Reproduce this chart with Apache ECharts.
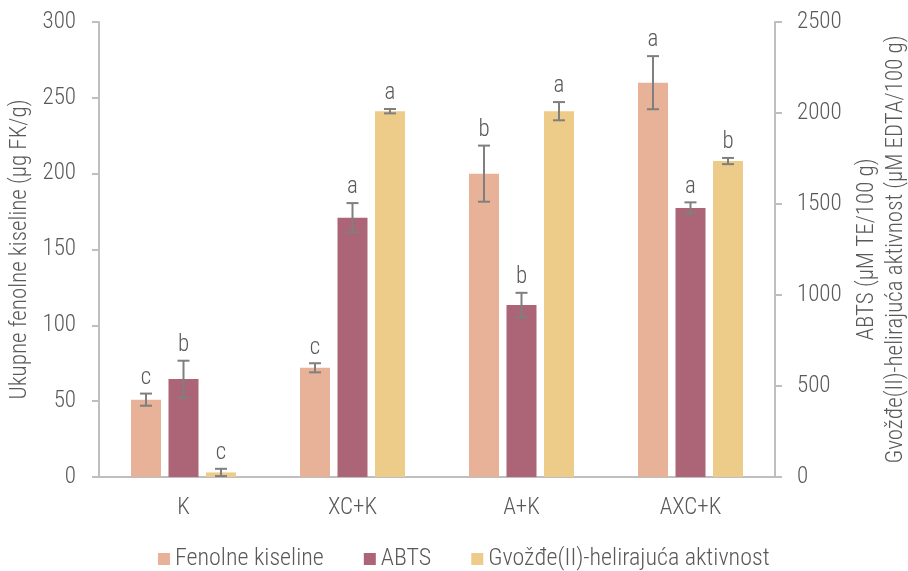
<!DOCTYPE html>
<html>
<head>
<meta charset="utf-8">
<script src="https://cdn.jsdelivr.net/npm/echarts@6/dist/echarts.min.js"></script>
<style>
  html, body { margin: 0; padding: 0; background: #fff; }
  #chart { width: 908px; height: 571px; }
</style>
</head>
<body>
<div id="chart"></div>
<script>
// Treatments on the x axis
const categories = ['K', 'XC+K', 'A+K', 'AXC+K'];

// Total phenolic acids (µg FK/g), left axis
const fenolne = [51, 72, 200, 260];
const fenolneErr = [4, 3, 18.5, 17.5];
const fenolneLetters = ['c', 'c', 'b', 'a'];

// ABTS (µM TE/100 g), right axis
const abts = [538, 1425, 945, 1478];
const abtsErr = [101, 80, 67, 31];
const abtsLetters = ['b', 'a', 'b', 'a'];

// Fe(II) chelating activity (µM EDTA/100 g), right axis
const gvozdje = [25, 2010, 2010, 1736];
const gvozdjeErr = [20, 12, 50, 17];
const gvozdjeLetters = ['c', 'a', 'a', 'b'];

const leftTicks = { min: 0, max: 300, interval: 50 };
const rightTicks = { min: 0, max: 2500, interval: 500 };

const FONT = '"Roboto Condensed", Roboto, sans-serif';
const FS = 23;
const TEXT = '#595959';
const AXIS = '#bfbfbf';
const ERR = '#7f7f7f';
const BAR_W = 30;
const BAR_STEP = 37.5;

const colors = ['#e8b298', '#ab6577', '#edcb88'];

function errorSeries(name, values, errs, letters, yAxisIndex, slot) {
  return {
    type: 'custom',
    name: name + ' err',
    yAxisIndex: yAxisIndex,
    z: 10,
    silent: true,
    clip: false,
    data: values.map((v, i) => [i, v, errs[i]]),
    renderItem: function (params, api) {
      const i = api.value(0);
      const v = api.value(1);
      const e = api.value(2);
      const letter = letters[params.dataIndex];
      const hi = api.coord([i, v + e]);
      const lo = api.coord([i, v - e]);
      const x = hi[0] + slot * BAR_STEP;
      const cap = 6;
      const style = { stroke: ERR, lineWidth: 2 };
      return {
        type: 'group',
        children: [
          { type: 'line', shape: { x1: x, y1: hi[1], x2: x, y2: lo[1] }, style: style },
          { type: 'line', shape: { x1: x - cap, y1: hi[1], x2: x + cap, y2: hi[1] }, style: style },
          { type: 'line', shape: { x1: x - cap, y1: lo[1], x2: x + cap, y2: lo[1] }, style: style },
          {
            type: 'text',
            x: x, y: hi[1] - 4,
            style: {
              text: letter, fill: TEXT, fontFamily: FONT, fontWeight: 300,
              fontSize: FS, align: 'center', verticalAlign: 'bottom'
            }
          }
        ]
      };
    }
  };
}

const chart = echarts.init(document.getElementById('chart'), null, { renderer: 'canvas' });

const axisText = { color: TEXT, fontFamily: FONT, fontWeight: 300, fontSize: FS };

chart.setOption({
  animation: false,
  textStyle: { fontFamily: FONT },
  grid: { left: 99, right: 133, top: 22, bottom: 94, containLabel: false, outerBoundsMode: 'none' },
  legend: {
    data: ['Fenolne kiseline', 'ABTS', 'Gvožđe(II)-helirajuća aktivnost'],
    top: 547,
    left: 158,
    padding: 0,
    itemWidth: 12,
    itemHeight: 12,
    itemGap: 40,
    icon: 'rect',
    textStyle: { color: TEXT, fontFamily: FONT, fontWeight: 300, fontSize: 24 }
  },
  xAxis: {
    type: 'category',
    data: categories,
    axisLine: { lineStyle: { color: AXIS, width: 2 } },
    axisTick: { show: false },
    axisLabel: Object.assign({ margin: 20 }, axisText)
  },
  yAxis: [
    {
      type: 'value',
      min: leftTicks.min, max: leftTicks.max, interval: leftTicks.interval,
      name: 'Ukupne fenolne kiseline (µg FK/g)',
      nameLocation: 'middle',
      nameRotate: 90,
      nameGap: 66,
      nameTextStyle: { color: TEXT, fontFamily: FONT, fontWeight: 300, fontSize: FS },
      axisLine: { show: true, lineStyle: { color: AXIS, width: 2 } },
      axisTick: { show: true, length: 7, lineStyle: { color: AXIS, width: 2 } },
      axisLabel: Object.assign({ margin: 23 }, axisText),
      splitLine: { show: false }
    },
    {
      type: 'value',
      position: 'right',
      min: rightTicks.min, max: rightTicks.max, interval: rightTicks.interval,
      name: 'ABTS (µM TE/100 g)\nGvožđe(II)-helirajuća aktivnost (µM EDTA/100 g)',
      nameLocation: 'middle',
      nameRotate: 90,
      nameGap: 72,
      nameTextStyle: { color: TEXT, fontFamily: FONT, fontWeight: 300, fontSize: FS, lineHeight: 29, align: 'center' },
      axisLine: { show: true, lineStyle: { color: AXIS, width: 2 } },
      axisTick: { show: true, length: 7, lineStyle: { color: AXIS, width: 2 } },
      axisLabel: Object.assign({ margin: 22, formatter: v => String(v) }, axisText),
      splitLine: { show: false }
    }
  ],
  series: [
    {
      name: 'Fenolne kiseline', type: 'bar', yAxisIndex: 0,
      data: fenolne, barWidth: BAR_W, barGap: '25%',
      itemStyle: { color: colors[0] }
    },
    {
      name: 'ABTS', type: 'bar', yAxisIndex: 1,
      data: abts, barWidth: BAR_W, barGap: '25%',
      itemStyle: { color: colors[1] }
    },
    {
      name: 'Gvožđe(II)-helirajuća aktivnost', type: 'bar', yAxisIndex: 1,
      data: gvozdje, barWidth: BAR_W, barGap: '25%',
      itemStyle: { color: colors[2] }
    },
    errorSeries('Fenolne kiseline', fenolne, fenolneErr, fenolneLetters, 0, -1),
    errorSeries('ABTS', abts, abtsErr, abtsLetters, 1, 0),
    errorSeries('Gvožđe(II)-helirajuća aktivnost', gvozdje, gvozdjeErr, gvozdjeLetters, 1, 1)
  ]
});
</script>
</body>
</html>
